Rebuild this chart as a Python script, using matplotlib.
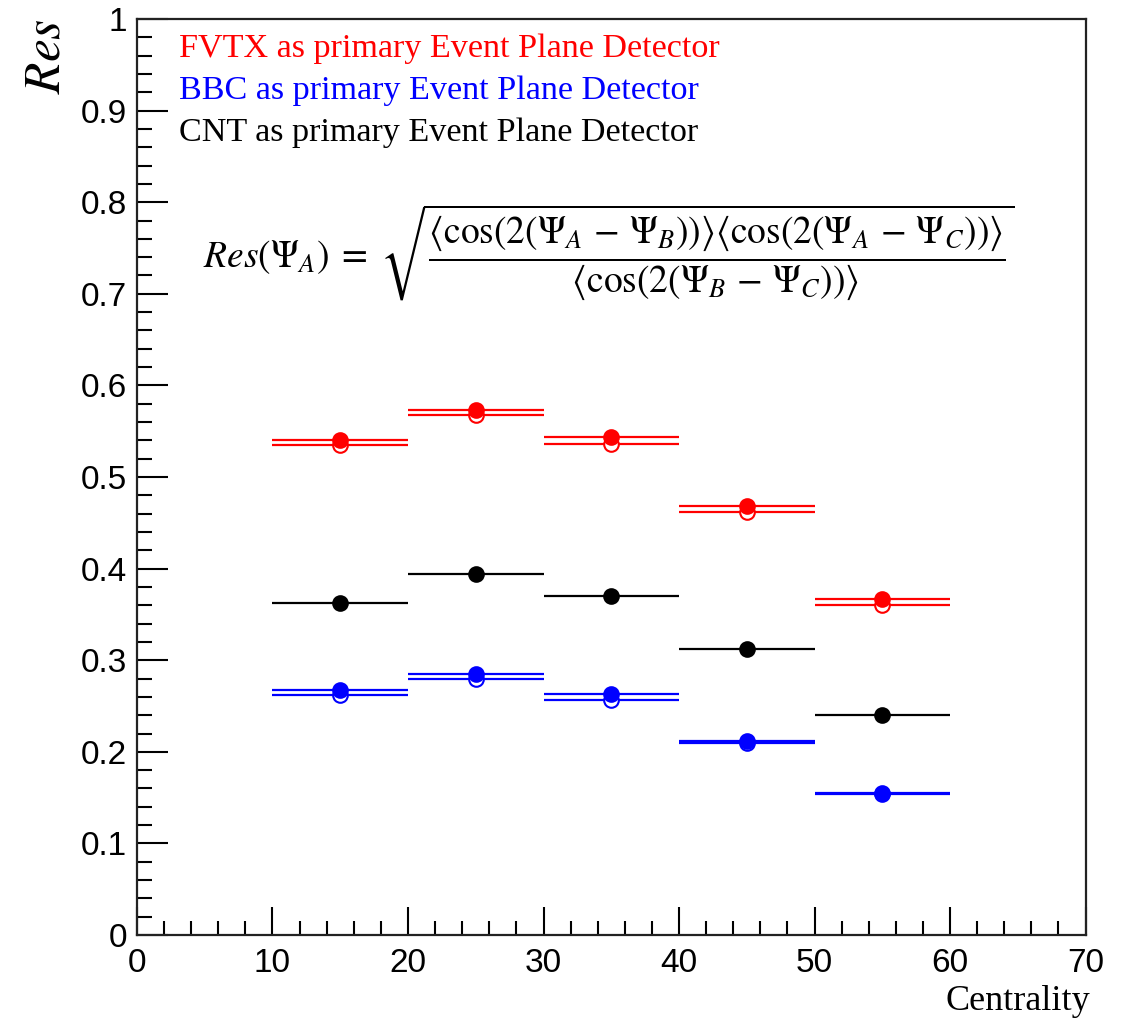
import matplotlib.pyplot as plt
from matplotlib.ticker import MultipleLocator, FuncFormatter

# bin centres and half widths (centrality %)
centrality = [15, 25, 35, 45, 55]
half_width = [5, 5, 5, 5, 5]

# resolution values
fvtx_filled = [0.540, 0.573, 0.544, 0.468, 0.367]
fvtx_open = [0.535, 0.568, 0.536, 0.462, 0.360]
bbc_filled = [0.268, 0.285, 0.263, 0.212, 0.155]
bbc_open = [0.262, 0.279, 0.257, 0.210, 0.154]
cnt_filled = [0.363, 0.394, 0.370, 0.312, 0.240]

legend_text = ["FVTX as primary Event Plane Detector",
               "BBC as primary Event Plane Detector",
               "CNT as primary Event Plane Detector"]
legend_color = ["#ff0000", "#0000ff", "black"]

plt.rcParams["mathtext.fontset"] = "stix"

fig = plt.figure(figsize=(11.32, 10.21), dpi=100)
ax = fig.add_axes([0.121, 0.0842, 0.838, 0.8972])


def draw(y, color, filled):
    ax.errorbar(centrality, y, xerr=half_width, fmt="o", color=color,
                ms=10.5, mew=1.5, elinewidth=1.6, capsize=0,
                mfc=color if filled else "white", zorder=3 if filled else 2)


draw(fvtx_open, "#ff0000", False)
draw(fvtx_filled, "#ff0000", True)
draw(bbc_open, "#0000ff", False)
draw(bbc_filled, "#0000ff", True)
draw(cnt_filled, "black", True)

ax.set_xlim(0, 70)
ax.set_ylim(0, 1)
ax.xaxis.set_major_locator(MultipleLocator(10))
ax.xaxis.set_minor_locator(MultipleLocator(2))
ax.yaxis.set_major_locator(MultipleLocator(0.1))
ax.yaxis.set_minor_locator(MultipleLocator(0.02))
ax.yaxis.set_major_formatter(FuncFormatter(lambda v, p: "%g" % round(v, 2)))
ax.tick_params(which="both", direction="in", top=False, right=False,
               width=1.5, labelsize=24, colors="black")
ax.tick_params(axis="y", which="major", length=22, pad=7)
ax.tick_params(axis="y", which="minor", length=11)
ax.tick_params(axis="x", which="major", length=20, pad=9)
ax.tick_params(axis="x", which="minor", length=10)
for lab in ax.get_xticklabels() + ax.get_yticklabels():
    lab.set_fontfamily("Liberation Sans")
for s in ax.spines.values():
    s.set_linewidth(1.6)
    s.set_color("#222222")

# legend-like coloured text
for i, (t, c) in enumerate(zip(legend_text, legend_color)):
    ax.text(3.1, 0.958 - i * 0.0455, t, color=c, fontsize=24.6,
            family="Liberation Serif", va="baseline")

ax.text(4.9, 0.746,
        r"$Res(\Psi_A)\;=\;\sqrt{\dfrac{\langle\cos(2(\Psi_A\,-\,\Psi_B))\rangle"
        r"\langle\cos(2(\Psi_A\,-\,\Psi_C))\rangle}"
        r"{\langle\cos(2(\Psi_B\,-\,\Psi_C))\rangle}}$",
        fontsize=27, va="center", ha="left")

fig.text(45 / 1132, 1 - 18 / 1021, "$Res$", rotation=90, fontsize=37,
         ha="center", va="top")
fig.text(1090 / 1132, 1 - 1010 / 1021, "Centrality", fontsize=26,
         family="Liberation Serif", ha="right", va="baseline")

fig.savefig("out.png", dpi=100)
